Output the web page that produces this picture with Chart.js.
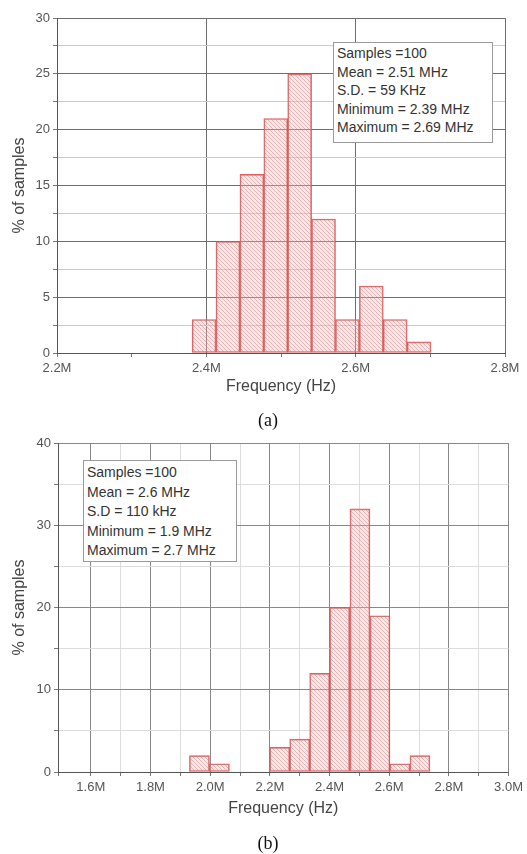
<!DOCTYPE html>
<html lang="en">
<head>
  <meta charset="UTF-8">
  <title>Frequency histograms</title>
  <script src="https://cdn.jsdelivr.net/npm/chart.js"></script>
  <style>
    body { margin: 0; background: #fff; }
    .wrap { position: relative; width: 527px; height: 854px; font-family: 'Liberation Sans', Arial, sans-serif; }
    canvas { position: absolute; left: 0; }
    .stats {
      position: absolute; background: #fff; border: 1px solid #9a9a9a;
      color: #333; font-size: 14px; box-sizing: border-box; padding-left: 3px;
    }
    .cap { position: absolute; transform: translate(-50%, -50%); font-family: 'Liberation Serif', 'Times New Roman', serif; font-size: 18px; color: #111; }
  </style>
</head>
<body>
<div class="wrap">
  <canvas id="chartA" width="527" height="400" style="top:0"></canvas>
  <canvas id="chartB" width="527" height="410" style="top:420px"></canvas>

  <div class="stats" style="left:333px; top:42px; width:160px; height:101px; line-height:18.5px; padding-top:1px;">
    Samples =100<br>Mean = 2.51 MHz<br>S.D. = 59 KHz<br>Minimum = 2.39 MHz<br>Maximum = 2.69 MHz
  </div>
  <div class="stats" style="left:83px; top:460px; width:154px; height:102px; line-height:19.5px; padding-top:2px;">
    Samples =100<br>Mean = 2.6 MHz<br>S.D = 110 kHz<br>Minimum = 1.9 MHz<br>Maximum = 2.7 MHz
  </div>
  <div class="cap" style="left:268px; top:420px;">(a)</div>
  <div class="cap" style="left:268px; top:843px;">(b)</div>
</div>

<script>
  // (a) bin centres in MHz and % of samples
  const freqA = [2.397, 2.429, 2.461, 2.493, 2.525, 2.557, 2.589, 2.621, 2.653, 2.685];
  const pctA = [3, 10, 16, 21, 25, 12, 3, 6, 3, 1];

  // (b) bin centres in MHz and % of samples
  const freqB = [1.964, 2.031, 2.098, 2.166, 2.233, 2.300, 2.367, 2.434, 2.502, 2.569, 2.636, 2.703];
  const pctB = [2, 1, 0, 0, 3, 4, 12, 20, 32, 19, 1, 2];

  const tickFont = { family: "'Liberation Sans', Arial, sans-serif", size: 13 };
  const titleFont = { family: "'Liberation Sans', Arial, sans-serif", size: 16 };

  // pink hatched fill
  function hatch() {
    const c = document.createElement('canvas');
    c.width = 4; c.height = 4;
    const g = c.getContext('2d');
    g.fillStyle = 'rgba(250,185,185,0.35)';
    g.fillRect(0, 0, 4, 4);
    g.strokeStyle = 'rgba(205,120,120,0.45)';
    g.lineWidth = 1;
    g.beginPath();
    g.moveTo(0, 0); g.lineTo(4, 4);
    g.moveTo(-1, 3); g.lineTo(1, 5);
    g.moveTo(3, -1); g.lineTo(5, 1);
    g.stroke();
    return g.createPattern(c, 'repeat');
  }

  function makeChart(id, freq, pct, opt) {
    const isMajorX = v => Math.round(v * 10) % 2 === 0;
    const isMajorY = v => Math.abs(v / opt.yMajor - Math.round(v / opt.yMajor)) < 1e-6;
    return new Chart(document.getElementById(id), {
      type: 'bar',
      data: {
        datasets: [{
          data: freq.map((f, i) => ({ x: f, y: pct[i] })),
          backgroundColor: hatch(),
          borderColor: 'rgba(215,80,80,0.9)',
          borderWidth: ctx => (ctx.raw && ctx.raw.y > 0 ? 1 : 0),
          borderSkipped: false,
          barPercentage: 1,
          categoryPercentage: 1
        }]
      },
      options: {
        responsive: false,
        animation: false,
        layout: { padding: { top: opt.padTop, right: opt.padRight, left: 0, bottom: 0 } },
        plugins: { legend: { display: false }, tooltip: { enabled: false } },
        scales: {
          x: {
            type: 'linear',
            offset: false,
            min: opt.xMin, max: opt.xMax,
            afterFit: s => { s.height = opt.xHeight; },
            ticks: {
              stepSize: 0.1,
              autoSkip: false,
              maxRotation: 0,
              padding: 4,
              color: '#555',
              font: tickFont,
              callback: v => (isMajorX(v) && v > opt.xMin - 1e-9 ? v.toFixed(1) + 'M' : '')
            },
            grid: {
              offset: false,
              color: ctx => (!ctx.tick || isMajorX(ctx.tick.value) ? opt.xMajorColor : opt.xMinorColor),
              tickColor: '#777',
              tickLength: 4
            },
            border: { color: '#555' },
            title: { display: true, text: 'Frequency (Hz)', color: '#444', font: titleFont, padding: { top: 0, bottom: opt.xTitlePad } }
          },
          y: {
            min: 0, max: opt.yMax,
            afterFit: s => { s.width = opt.yWidth; },
            ticks: {
              stepSize: opt.yStep,
              padding: 3,
              color: '#555',
              font: tickFont,
              callback: v => (isMajorY(v) ? v : '')
            },
            grid: {
              color: ctx => (!ctx.tick || isMajorY(ctx.tick.value) ? opt.yMajorColor : opt.yMinorColor),
              tickColor: '#777',
              tickLength: 4
            },
            border: { color: '#555' },
            title: { display: true, text: '% of samples', color: '#444', font: titleFont, padding: { top: 10, bottom: 0 } }
          }
        }
      }
    });
  }

  makeChart('chartA', freqA, pctA, {
    xMin: 2.2, xMax: 2.8, yMax: 30, yStep: 2.5, yMajor: 5,
    padTop: 18, padRight: 22, xHeight: 47, yWidth: 57, xTitlePad: 4,
    xMajorColor: '#6e6e6e', xMinorColor: 'rgba(0,0,0,0)',
    yMajorColor: '#6e6e6e', yMinorColor: '#cccccc'
  });

  makeChart('chartB', freqB, pctB, {
    xMin: 1.49, xMax: 3.0, yMax: 40, yStep: 5, yMajor: 10,
    padTop: 23, padRight: 17, xHeight: 58, yWidth: 58, xTitlePad: 12,
    xMajorColor: '#888888', xMinorColor: '#dddddd',
    yMajorColor: '#888888', yMinorColor: '#dddddd'
  });
</script>
</body>
</html>
